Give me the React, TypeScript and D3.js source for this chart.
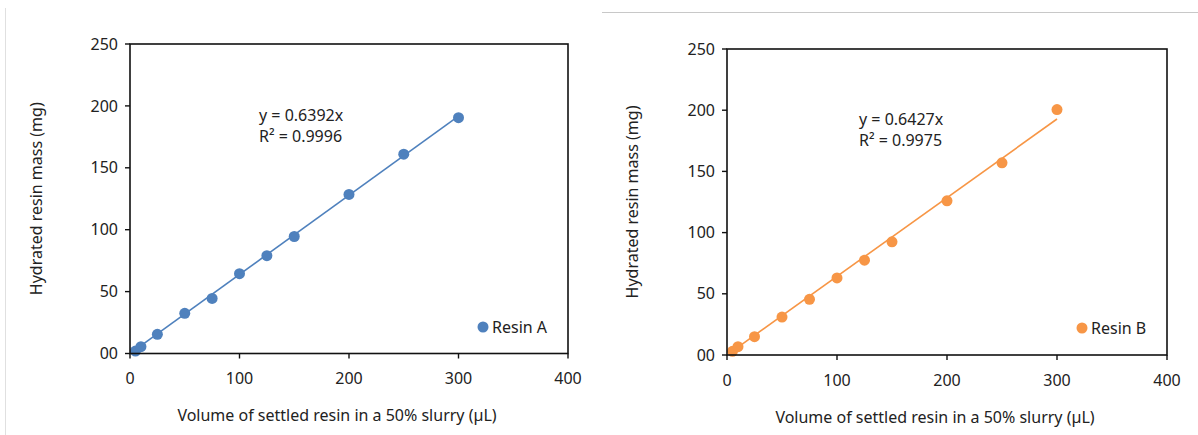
import React from "react";
import * as d3 from "d3";

const volumes = [5, 10, 25, 50, 75, 100, 125, 150, 200, 250, 300];
const massA = [2, 5.5, 15.5, 32.5, 44.5, 64.5, 79, 94.5, 128.5, 161, 190.5];
const massB = [3, 6.8, 15, 31, 45.5, 63, 77.5, 92.5, 126, 157, 200.5];
const slopeA = 0.6392;
const slopeB = 0.6427;
const r2A = "0.9996";
const r2B = "0.9975";
const xTicks = [0, 100, 200, 300, 400];
const yTicks = [0, 50, 100, 150, 200, 250];
const yTickLabels = ["00", "50", "100", "150", "200", "250"];
const xTitle = "Volume of settled resin in a 50% slurry (\u00b5L)";
const yTitle = "Hydrated resin mass (mg)";

const FONT = "'Noto Sans', 'Open Sans', sans-serif";
const FS = 16;

type PanelProps = {
  left: number; right: number; top: number; bottom: number;
  values: number[]; slope: number; r2: string; name: string; color: string;
  eqX: number; eqY: number; legX: number; legY: number; yTitleX: number;
};

function Panel(p: PanelProps) {
  const x = d3.scaleLinear().domain([0, 400]).range([p.left, p.right]);
  const y = d3.scaleLinear().domain([0, 250]).range([p.bottom, p.top]);
  const xMin = d3.min(volumes) as number;
  const xMax = d3.max(volumes) as number;
  const trend = d3.line<number>().x((v) => x(v)).y((v) => y(p.slope * v))([xMin, xMax]) as string;
  const midY = (p.top + p.bottom) / 2;
  return (
    <g fontFamily={FONT} fill="#222">
      <path d={trend} stroke={p.color} strokeWidth={1.6} fill="none" />
      {volumes.map((v, i) => (
        <circle key={i} cx={x(v)} cy={y(p.values[i])} r={5.5} fill={p.color} />
      ))}
      <rect x={p.left} y={p.top} width={p.right - p.left} height={p.bottom - p.top} fill="none" stroke="#111" strokeWidth={1.6} />
      {yTicks.map((t, i) => (
        <g key={"y" + i}>
          <line x1={p.left - 5} x2={p.left} y1={y(t)} y2={y(t)} stroke="#111" strokeWidth={1.4} />
          <text x={p.left - 12} y={y(t)} dy="0.35em" textAnchor="end" fontSize={FS}>{yTickLabels[i]}</text>
        </g>
      ))}
      {xTicks.map((t, i) => (
        <g key={"x" + i}>
          <line x1={x(t)} x2={x(t)} y1={p.bottom} y2={p.bottom + 5} stroke="#111" strokeWidth={1.4} />
          <text x={x(t)} y={p.bottom + 25} dy="0.35em" textAnchor="middle" fontSize={FS}>{t}</text>
        </g>
      ))}
      <text x={(p.left + p.right) / 2 - 12} y={p.bottom + 62} dy="0.35em" textAnchor="middle" fontSize={FS}>{xTitle}</text>
      <text transform={`translate(${p.yTitleX},${midY}) rotate(-90)`} dy="0.35em" textAnchor="middle" fontSize={FS}>{yTitle}</text>
      <text x={p.eqX} y={p.eqY} dy="0.35em" fontSize={FS}>{`y = ${p.slope}x`}</text>
      <text x={p.eqX} y={p.eqY + 21} dy="0.35em" fontSize={FS}>R² = {p.r2}</text>
      <circle cx={p.legX} cy={p.legY} r={5.5} fill={p.color} />
      <text x={p.legX + 9} y={p.legY} dy="0.35em" fontSize={FS}>{p.name}</text>
    </g>
  );
}

export default function App() {
  return (
    <svg width={1198} height={435} style={{ position: "absolute", left: 0, top: 0, background: "#fff" }}>
      <rect x={0} y={0} width={1198} height={435} fill="#fff" />
      <line x1={5.5} x2={5.5} y1={8} y2={435} stroke="#e0e0e0" strokeWidth={1} />
      <line x1={602} x2={1198} y1={12.5} y2={12.5} stroke="#c8c8c8" strokeWidth={1} />
      <Panel left={130} right={568} top={44} bottom={353.5} values={massA} slope={slopeA} r2={r2A}
        name="Resin A" color="#4f81bd" eqX={259} eqY={115} legX={483} legY={327} yTitleX={36} />
      <Panel left={727} right={1167} top={49} bottom={355} values={massB} slope={slopeB} r2={r2B}
        name="Resin B" color="#f79646" eqX={859} eqY={119} legX={1082} legY={328} yTitleX={632} />
    </svg>
  );
}
